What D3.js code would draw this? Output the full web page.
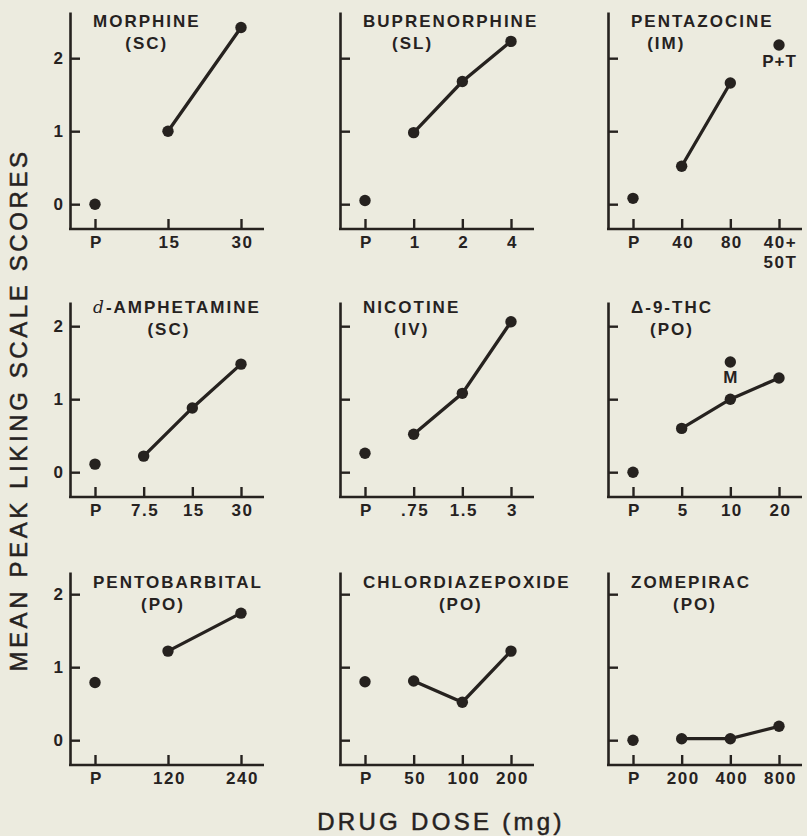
<!DOCTYPE html>
<html>
<head>
<meta charset="utf-8">
<script src="https://cdn.jsdelivr.net/npm/d3@7"></script>
<style>
  html, body { margin: 0; padding: 0; background: #ecebdf; }
  svg { display: block; }
  text { font-family: "Liberation Sans", Arial, sans-serif; fill: #26221f; }
</style>
</head>
<body>
<svg id="chart" width="807" height="836"></svg>
<script>
// ---------------- DATA ----------------
const drugs   = ["MORPHINE", "BUPRENORPHINE", "PENTAZOCINE",
                 "d-AMPHETAMINE", "NICOTINE", "Δ-9-THC",
                 "PENTOBARBITAL", "CHLORDIAZEPOXIDE", "ZOMEPIRAC"];
const routes  = ["(SC)", "(SL)", "(IM)", "(SC)", "(IV)", "(PO)", "(PO)", "(PO)", "(PO)"];
const doseLabels = [
  ["P", "15", "30"],
  ["P", "1", "2", "4"],
  ["P", "40", "80", "40+\n50T"],
  ["P", "7.5", "15", "30"],
  ["P", ".75", "1.5", "3"],
  ["P", "5", "10", "20"],
  ["P", "120", "240"],
  ["P", "50", "100", "200"],
  ["P", "200", "400", "800"]
];
const placeboScores = [0.00, 0.05, 0.08, 0.11, 0.26, 0.00, 0.79, 0.80, 0.00];
const doseScores = [
  [1.00, 2.42],
  [0.98, 1.68, 2.23],
  [0.52, 1.66],
  [0.22, 0.88, 1.48],
  [0.52, 1.08, 2.06],
  [0.60, 1.00, 1.29],
  [1.22, 1.74],
  [0.81, 0.52, 1.22],
  [0.02, 0.02, 0.19]
];
// extra (unconnected) labelled points
const extraPanel = [2, 5];
const extraDose  = ["40+\n50T", "10"];
const extraScore = [2.18, 1.51];
const extraText  = ["P+T", "M"];
const yTicks = [0, 1, 2];
const yTitle = "MEAN PEAK LIKING SCALE SCORES";
const xTitle = "DRUG DOSE (mg)";

// ---------------- LAYOUT ----------------
const colX = [70, 340, 608];          // y-axis x of each column
const rowTop = [12, 302, 572];        // top of y-axis line of each row
const rowBottom = [229, 497, 765];    // x-axis line of each row
const yMin = -0.34;
const pxPerUnit = 73;
const titleDy = [15, 11, 16];
const subShift = [0, -38, -36, -8, 0, 0, -15, -6, 4];
const ink = "#26221f";

const svg = d3.select("#chart");

drugs.forEach((drug, i) => {
  const r = Math.floor(i / 3), c = i % 3;
  const h = rowBottom[r] - rowTop[r];
  const yMax = yMin + h / pxPerUnit;
  const g = svg.append("g").attr("transform", `translate(${colX[c]},${rowTop[r]})`);

  const y = d3.scaleLinear().domain([yMin, yMax]).range([h, 0]);
  const x = d3.scalePoint().domain(doseLabels[i]).range([25, 171]);

  // y axis
  const ya = g.append("g")
    .call(d3.axisLeft(y).tickValues(yTicks).tickSize(-10).tickSizeOuter(0).tickPadding(7)
      .tickFormat(c === 0 ? d3.format("d") : () => ""));
  ya.select(".domain").attr("stroke", ink).attr("stroke-width", 2.6);
  ya.selectAll(".tick line").attr("stroke", ink).attr("stroke-width", 2.4);
  ya.selectAll(".tick text").attr("font-size", 17).attr("font-weight", "bold")
    .style("font-family", "'Liberation Sans', Arial, sans-serif").attr("fill", ink);

  // x axis
  g.append("line").attr("x1", -1).attr("x2", 194).attr("y1", h).attr("y2", h)
    .attr("stroke", ink).attr("stroke-width", 2.6);
  const xa = g.append("g").attr("transform", `translate(0,${h})`)
    .call(d3.axisBottom(x).tickSize(-10).tickSizeOuter(0).tickPadding(7));
  xa.select(".domain").remove();
  xa.selectAll(".tick line").attr("stroke", ink).attr("stroke-width", 2.4);
  xa.selectAll(".tick text")
    .attr("font-size", 17).attr("font-weight", "bold").attr("letter-spacing", 1.5)
    .style("font-family", "'Liberation Sans', Arial, sans-serif").attr("fill", ink)
    .each(function(d) {
      const t = d3.select(this);
      const parts = d.split("\n");
      t.text(null);
      parts.forEach((p, k) => {
        t.append("tspan").attr("x", 1).attr("dy", k === 0 ? "0.71em" : "1.15em").text(p);
      });
      t.attr("dy", null);
    });

  // line through active doses
  const doses = doseLabels[i].slice(1, 1 + doseScores[i].length);
  const pts = doses.map((d, k) => [x(d), y(doseScores[i][k])]);
  g.append("path").attr("d", d3.line()(pts))
    .attr("fill", "none").attr("stroke", ink).attr("stroke-width", 3.3).attr("stroke-linecap", "round");
  g.selectAll("circle.dose").data(pts).enter().append("circle")
    .attr("class", "dose").attr("cx", p => p[0]).attr("cy", p => p[1]).attr("r", 5.7).attr("fill", ink);

  // placebo point
  g.append("circle").attr("cx", x("P")).attr("cy", y(placeboScores[i])).attr("r", 5.7).attr("fill", ink);

  // extra labelled points
  extraPanel.forEach((p, k) => {
    if (p !== i) return;
    const ex = x(extraDose[k]), ey = y(extraScore[k]);
    g.append("circle").attr("cx", ex).attr("cy", ey).attr("r", 5.7).attr("fill", ink);
    g.append("text").attr("x", ex + 0.5).attr("y", ey + 21.5).attr("text-anchor", "middle")
      .attr("font-size", 17).attr("font-weight", "bold").attr("letter-spacing", 1)
      .text(extraText[k]);
  });

  // titles
  const t1 = g.append("text").attr("x", 23).attr("y", titleDy[r])
    .attr("font-size", 17).attr("font-weight", "bold").attr("letter-spacing", 2);
  if (drug.startsWith("d-")) {
    t1.append("tspan").attr("font-style", "italic").attr("font-weight", "normal")
      .style("font-family", "'DejaVu Serif', serif").text("d");
    t1.append("tspan").text(drug.slice(1));
  } else {
    t1.text(drug);
  }
  const bb = t1.node().getBBox();
  g.append("text").attr("x", bb.x + bb.width / 2 + subShift[i]).attr("y", titleDy[r] + 21.5)
    .attr("text-anchor", "middle")
    .attr("font-size", 17).attr("font-weight", "bold").attr("letter-spacing", 2)
    .text(routes[i]);
});

// axis titles
svg.append("text")
  .attr("transform", "translate(27,410) rotate(-90)")
  .attr("text-anchor", "middle")
  .attr("font-size", 24).attr("letter-spacing", 3.6)
  .attr("stroke", ink).attr("stroke-width", 0.5)
  .text(yTitle);

svg.append("text")
  .attr("x", 441).attr("y", 830)
  .attr("text-anchor", "middle")
  .attr("font-size", 24).attr("letter-spacing", 3.3)
  .attr("stroke", ink).attr("stroke-width", 0.5)
  .text(xTitle);
</script>
</body>
</html>
